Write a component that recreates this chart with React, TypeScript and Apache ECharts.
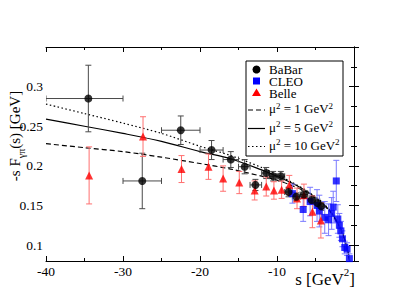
import React, { useEffect, useRef } from "react";
import * as echarts from "echarts";

// BaBar: [s, value, sLow, sHigh, error]
const babarData = [
  [-34.5, 0.285, -40, -30, 0.042],
  [-27.5, 0.181, -30, -25, 0.035],
  [-22.5, 0.245, -25, -20, 0.018],
  [-18.5, 0.22, -20, -17, 0.012],
  [-16.0, 0.208, -17, -15, 0.01],
  [-14.2, 0.199, -15, -13.5, 0.009],
  [-12.8, 0.176, -13.5, -12, 0.007],
  [-11.4, 0.191, -12, -11, 0.007],
  [-10.5, 0.187, -11, -10, 0.006],
  [-9.5, 0.187, -10, -9, 0.006],
  [-8.5, 0.167, -9, -8, 0.006],
  [-7.5, 0.161, -8, -7, 0.005],
  [-6.5, 0.164, -7, -6, 0.005],
  [-5.5, 0.157, -6, -5, 0.005],
  [-4.75, 0.153, -5, -4.5, 0.005],
  [-4.25, 0.149, -4.5, -4, 0.005],
];

// CLEO: [s, value, error]
const cleoData = [
  [-8.0, 0.165, 0.012],
  [-6.6, 0.145, 0.015],
  [-5.7, 0.155, 0.018],
  [-4.8, 0.15, 0.02],
  [-4.5, 0.143, 0.02],
  [-3.8, 0.135, 0.02],
  [-3.3, 0.132, 0.02],
  [-2.9, 0.14, 0.02],
  [-2.7, 0.148, 0.02],
  [-2.3, 0.181, 0.026],
  [-2.1, 0.133, 0.018],
  [-1.9, 0.125, 0.015],
  [-1.7, 0.118, 0.012],
  [-1.5, 0.108, 0.01],
  [-1.2, 0.097, 0.008],
  [-0.9, 0.095, 0.008],
  [-0.6, 0.083, 0.006],
];

// Belle: [s, value, error]
const belleData = [
  [-34.4, 0.188, 0.036],
  [-27.4, 0.237, 0.025],
  [-22.4, 0.196, 0.017],
  [-18.9, 0.199, 0.016],
  [-17.0, 0.184, 0.016],
  [-14.9, 0.179, 0.014],
  [-12.9, 0.169, 0.012],
  [-11.4, 0.174, 0.012],
  [-10.4, 0.169, 0.011],
  [-9.4, 0.17, 0.011],
  [-8.4, 0.176, 0.012],
  [-7.4, 0.159, 0.013],
  [-6.5, 0.163, 0.014],
  [-5.4, 0.142, 0.02],
  [-4.3, 0.131, 0.022],
];

// Theory curves
const curveS = [-40, -35, -30, -25, -20, -16, -12, -10, -8, -6, -5, -4, -3, -2, -1.5, -1, -0.5, -0.25, 0];
const mu1 = [0.228, 0.223, 0.218, 0.211, 0.203, 0.196, 0.187, 0.182, 0.175, 0.166, 0.159, 0.151, 0.141, 0.125, 0.114, 0.1, 0.076, 0.05, 0];
const mu5 = [0.259, 0.25, 0.241, 0.231, 0.218, 0.209, 0.195, 0.187, 0.178, 0.167, 0.16, 0.152, 0.142, 0.126, 0.115, 0.1, 0.076, 0.05, 0];
const mu10 = [0.278, 0.266, 0.254, 0.241, 0.2248, 0.213, 0.198, 0.189, 0.179, 0.168, 0.161, 0.153, 0.142, 0.126, 0.115, 0.1, 0.076, 0.05, 0];

const xTicks = [-40, -30, -20, -10];
const yTicks = [0.1, 0.15, 0.2, 0.25, 0.3];

const FONT = "Times New Roman, Liberation Serif, serif";

function errRender(color: string, hasX: boolean) {
  return (params: any, api: any) => {
    const s = api.value(0);
    const v = api.value(1);
    const e = hasX ? api.value(4) : api.value(2);
    const top = api.coord([s, v + e]);
    const bot = api.coord([s, v - e]);
    const cap = 3;
    const style = { stroke: color, lineWidth: 1, fill: "none" };
    const children: any[] = [
      { type: "line", shape: { x1: top[0], y1: top[1], x2: bot[0], y2: bot[1] }, style },
      { type: "line", shape: { x1: top[0] - cap, y1: top[1], x2: top[0] + cap, y2: top[1] }, style },
      { type: "line", shape: { x1: bot[0] - cap, y1: bot[1], x2: bot[0] + cap, y2: bot[1] }, style },
    ];
    if (hasX) {
      const lo = api.coord([api.value(2), v]);
      const hi = api.coord([api.value(3), v]);
      children.push(
        { type: "line", shape: { x1: lo[0], y1: lo[1], x2: hi[0], y2: hi[1] }, style },
        { type: "line", shape: { x1: lo[0], y1: lo[1] - cap, x2: lo[0], y2: lo[1] + cap }, style },
        { type: "line", shape: { x1: hi[0], y1: hi[1] - cap, x2: hi[0], y2: hi[1] + cap }, style }
      );
    }
    return { type: "group", children };
  };
}

const supRich = {
  a: { fontFamily: FONT, fontSize: 13, color: "#000", verticalAlign: "bottom", lineHeight: 14 },
  sup: { fontFamily: FONT, fontSize: 9, color: "#000", verticalAlign: "top", lineHeight: 14 },
};

export default function App() {
  const ref = useRef<HTMLDivElement>(null);
  useEffect(() => {
    if (!ref.current) return;
    document.body.style.margin = "0";
    const chart = echarts.init(ref.current, null, { renderer: "svg" });
    const axisCommon = {
      type: "value",
      axisLine: { show: true, lineStyle: { color: "#000", width: 1 } },
      splitLine: { show: false },
      axisTick: { show: true, inside: true, length: 5, lineStyle: { color: "#000" } },
      minorTick: { show: true, splitNumber: 2, length: 3, lineStyle: { color: "#000" } },
    };
    const curve = (name: string, vals: number[], type: any) => ({
      type: "line",
      name,
      data: curveS.map((s, i) => [s, vals[i]]),
      showSymbol: false,
      symbol: "none",
      smooth: 0.3,
      clip: true,
      lineStyle: { color: "#000", width: 1.2, type },
      z: 2,
    });
    const legendY = [69.5, 81, 93, 110, 128.5, 146.5];
    const lx = 256.5;
    const textStyle = (t: string) => ({
      text: t,
      fontFamily: FONT,
      fontSize: 13,
      lineHeight: 11,
      fill: "#000",
      verticalAlign: "middle",
    });
    const option: any = {
      animation: false,
      grid: { left: 46, top: 47, right: 45, bottom: 47 },
      xAxis: [
        {
          ...axisCommon,
          min: -40,
          max: 0,
          interval: 10,
          position: "bottom",
          axisLabel: {
            margin: 3,
            fontFamily: FONT,
            fontSize: 13.5,
            color: "#000",
            formatter: (v: number) => (xTicks.includes(v) ? String(v) : ""),
          },
        },
        {
          ...axisCommon,
          min: -40,
          max: 0,
          interval: 10,
          position: "top",
          axisLabel: { show: false },
        },
      ],
      yAxis: [
        {
          ...axisCommon,
          min: 0.08,
          max: 0.35,
          splitNumber: 5,
          position: "left",
          axisLabel: {
            margin: 3,
            fontFamily: FONT,
            fontSize: 13.5,
            color: "#000",
            formatter: (v: number) => {
              const t = yTicks.find((y) => Math.abs(y - v) < 1e-6);
              return t !== undefined ? String(t) : "";
            },
          },
        },
        {
          ...axisCommon,
          min: 0.08,
          max: 0.35,
          splitNumber: 5,
          position: "right",
          axisLabel: { show: false },
        },
      ],
      series: [
        curve("mu1", mu1, [5, 3]),
        curve("mu5", mu5, "solid"),
        curve("mu10", mu10, [1.5, 2.5]),
        {
          type: "custom",
          name: "babarErr",
          renderItem: errRender("#4a4a4a", true),
          data: babarData,
          encode: { x: 0, y: 1 },
          clip: true,
          z: 3,
        },
        {
          type: "custom",
          name: "cleoErr",
          renderItem: errRender("#7a7aff", false),
          data: cleoData,
          encode: { x: 0, y: 1 },
          clip: true,
          z: 3,
        },
        {
          type: "custom",
          name: "belleErr",
          renderItem: errRender("#ff7070", false),
          data: belleData,
          encode: { x: 0, y: 1 },
          clip: true,
          z: 3,
        },
        {
          type: "scatter",
          name: "CLEO",
          data: cleoData.map((d) => [d[0], d[1]]),
          symbol: "rect",
          symbolSize: 7,
          itemStyle: { color: "#0000ff" },
          clip: true,
          z: 4,
        },
        {
          type: "scatter",
          name: "Belle",
          data: belleData.map((d) => [d[0], d[1]]),
          symbol: "triangle",
          symbolSize: 8,
          itemStyle: { color: "#ff0000" },
          clip: true,
          z: 4,
        },
        {
          type: "scatter",
          name: "BaBar",
          data: babarData.map((d) => [d[0], d[1]]),
          symbol: "circle",
          symbolSize: 8,
          itemStyle: { color: "#000" },
          clip: true,
          z: 5,
        },
      ],
      graphic: [
        {
          type: "rect",
          shape: { x: 246, y: 61, width: 97, height: 95 },
          style: { fill: "#fff", stroke: "#000", lineWidth: 1 },
          z: 100,
        },
        { type: "circle", shape: { cx: lx, cy: legendY[0], r: 4 }, style: { fill: "#000" }, z: 101 },
        { type: "rect", shape: { x: lx - 3.5, y: legendY[1] - 3.5, width: 7, height: 7 }, style: { fill: "#0000ff" }, z: 101 },
        {
          type: "polygon",
          shape: { points: [[lx, legendY[2] - 4.5], [lx + 4.5, legendY[2] + 3], [lx - 4.5, legendY[2] + 3]] },
          style: { fill: "#ff0000" },
          z: 101,
        },
        { type: "line", shape: { x1: 248, y1: legendY[3], x2: 265, y2: legendY[3] }, style: { stroke: "#000", lineWidth: 1.2, lineDash: [5, 3] }, z: 101 },
        { type: "line", shape: { x1: 248, y1: legendY[4], x2: 265, y2: legendY[4] }, style: { stroke: "#000", lineWidth: 1.2 }, z: 101 },
        { type: "line", shape: { x1: 248, y1: legendY[5], x2: 265, y2: legendY[5] }, style: { stroke: "#000", lineWidth: 1.2, lineDash: [1.5, 2.5] }, z: 101 },
        { type: "text", x: 269, y: legendY[0], style: textStyle("BaBar"), z: 101 },
        { type: "text", x: 269, y: legendY[1], style: textStyle("CLEO"), z: 101 },
        { type: "text", x: 269, y: legendY[2], style: textStyle("Belle"), z: 101 },
        { type: "text", x: 269, y: legendY[3] - 2, style: { text: "{a|μ}{sup|2}{a| = 1 GeV}{sup|2}", rich: supRich, verticalAlign: "middle" }, z: 101 },
        { type: "text", x: 269, y: legendY[4] - 2, style: { text: "{a|μ}{sup|2}{a| = 5 GeV}{sup|2}", rich: supRich, verticalAlign: "middle" }, z: 101 },
        { type: "text", x: 269, y: legendY[5] - 2, style: { text: "{a|μ}{sup|2}{a| = 10 GeV}{sup|2}", rich: supRich, verticalAlign: "middle" }, z: 101 },
        {
          type: "text",
          x: 355,
          y: 277,
          style: {
            text: "{a|s [GeV}{sup|2}{a|]}",
            align: "right",
            verticalAlign: "middle",
            rich: {
              a: { fontFamily: FONT, fontSize: 17, color: "#000", verticalAlign: "bottom", lineHeight: 21 },
              sup: { fontFamily: FONT, fontSize: 11, color: "#000", verticalAlign: "top", lineHeight: 21 },
            },
          },
        },
        {
          type: "text",
          x: 17,
          y: 136,
          rotation: Math.PI / 2,
          style: {
            text: "{a|-s F}{sub|γπ}{a|(s) [GeV]}",
            align: "center",
            verticalAlign: "middle",
            rich: {
              a: { fontFamily: FONT, fontSize: 15, color: "#000", verticalAlign: "top", lineHeight: 19 },
              sub: { fontFamily: FONT, fontSize: 10, color: "#000", verticalAlign: "bottom", lineHeight: 19 },
            },
          },
        },
      ],
    };
    chart.setOption(option);
    return () => chart.dispose();
  }, []);
  return <div ref={ref} style={{ width: 399, height: 308 }} />;
}
